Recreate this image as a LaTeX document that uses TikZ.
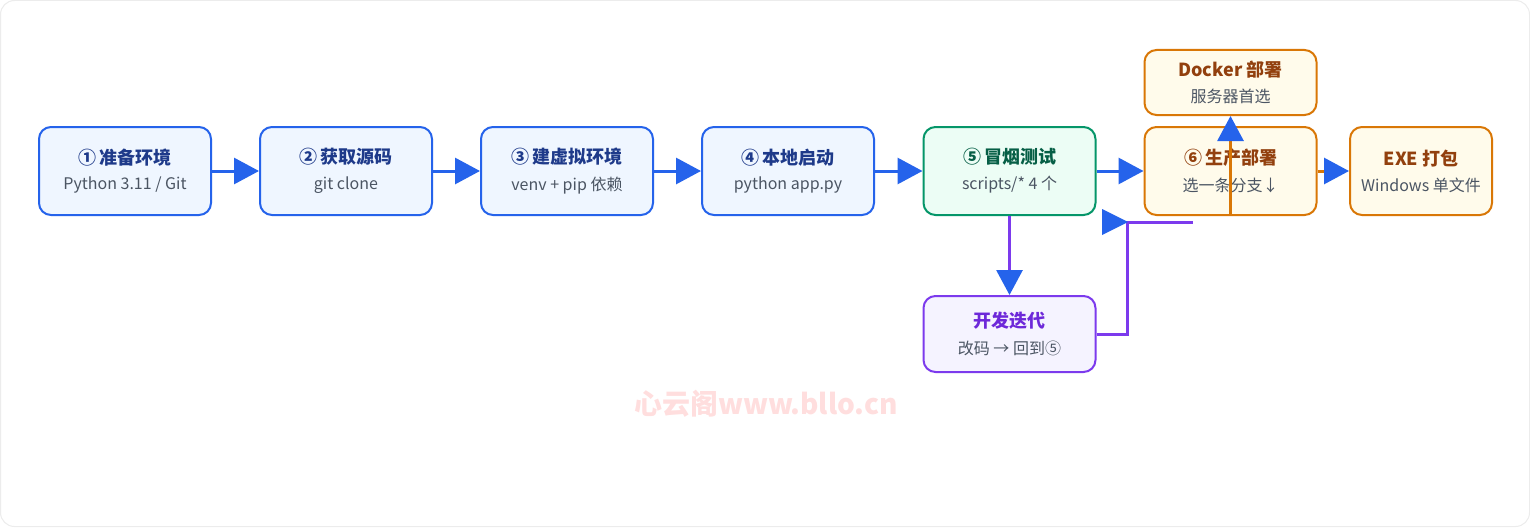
\documentclass[tikz,border=0pt]{standalone}
\usepackage{fontspec}
\setmainfont{Noto Sans CJK SC}
\usetikzlibrary{arrows.meta}
\definecolor{bB}{HTML}{2563EB}\definecolor{bF}{HTML}{EFF6FF}\definecolor{bT}{HTML}{1E3A8A}
\definecolor{gB}{HTML}{059669}\definecolor{gF}{HTML}{ECFDF5}\definecolor{gT}{HTML}{065F46}
\definecolor{oB}{HTML}{D97706}\definecolor{oF}{HTML}{FFFBEB}\definecolor{oT}{HTML}{92400E}
\definecolor{pB}{HTML}{7C3AED}\definecolor{pF}{HTML}{F5F3FF}\definecolor{pT}{HTML}{6D28D9}
\definecolor{sub}{HTML}{4B5563}
\newcommand{\boxtxt}[2]{{\fontsize{18}{24}\selectfont\bfseries #1}\\[10pt]{\fontsize{16}{22}\selectfont\color{sub}#2}}
\begin{document}
\begin{tikzpicture}[x=1pt,y=-1pt,
 box/.style={draw,rounded corners=12pt,line width=2pt,minimum width=172pt,minimum height=88pt,align=center,inner sep=2pt},
 blue/.style={box,draw=bB,fill=bF,text=bT},
 green/.style={box,draw=gB,fill=gF,text=gT},
 orange/.style={box,draw=oB,fill=oF,text=oT},
 purple/.style={box,draw=pB,fill=pF,text=pT},
 arr/.style={draw=bB,line width=3pt,-{Triangle[length=25pt,width=26pt,color=bB]}}]
\path[use as bounding box,draw=gray!15,fill=white,rounded corners=14pt,line width=1pt] (0.5,0.5) rectangle (1529.5,526.5);
\node[blue] (n1) at (125,171) {\boxtxt{①\,准备环境}{Python 3.11 / Git}};
\node[blue] (n2) at (346,171) {\boxtxt{②\,获取源码}{git clone}};
\node[blue] (n3) at (567,171) {\boxtxt{③\,建虚拟环境}{venv + pip 依赖}};
\node[blue] (n4) at (788,171) {\boxtxt{④\,本地启动}{python app.py}};
\node[green] (n5) at (1009.5,171) {\boxtxt{⑤\,冒烟测试}{scripts/* 4 个}};
\node[orange] (n6) at (1230.5,171) {\boxtxt{⑥\,生产部署}{选一条分支↓}};
\node[orange,minimum width=142pt] (exe) at (1421,171) {\boxtxt{EXE 打包}{Windows 单文件}};
\node[orange,minimum height=65pt] (dock) at (1230.5,82.5) {\boxtxt{Docker 部署}{服务器首选}};
\node[purple,minimum height=76pt] (dev) at (1009.5,334) {\boxtxt{开发迭代}{改码 → 回到⑤}};
\draw[arr] (n1) -- (n2);
\draw[arr] (n2) -- (n3);
\draw[arr] (n3) -- (n4);
\draw[arr] (n4) -- (n5);
\draw[arr] (n5) -- (n6);
\draw[arr,draw=oB] (n6.east) -- (exe.west);
\draw[arr,draw=pB] (n5.south) -- (dev.north);
\coordinate (c1) at (1127,334);
\coordinate (c2) at (1127,222);
\coordinate (c3) at (1193,222);
\draw[pB,line width=3pt] (dev.east|-c1) -- (c1) -- (c2) -- (c3);
\fill[bB] (1102,209) -- (1128,222) -- (1102,235) -- cycle;
\coordinate (o1) at (1230.5,215);
\draw[arr,draw=oB] (o1) -- (dock.south);
\node[text=red!13,font=\fontsize{28}{30}\selectfont\bfseries\itshape] (wm) at (766,404) {心云阁www.bllo.cn};
\end{tikzpicture}
\end{document}
